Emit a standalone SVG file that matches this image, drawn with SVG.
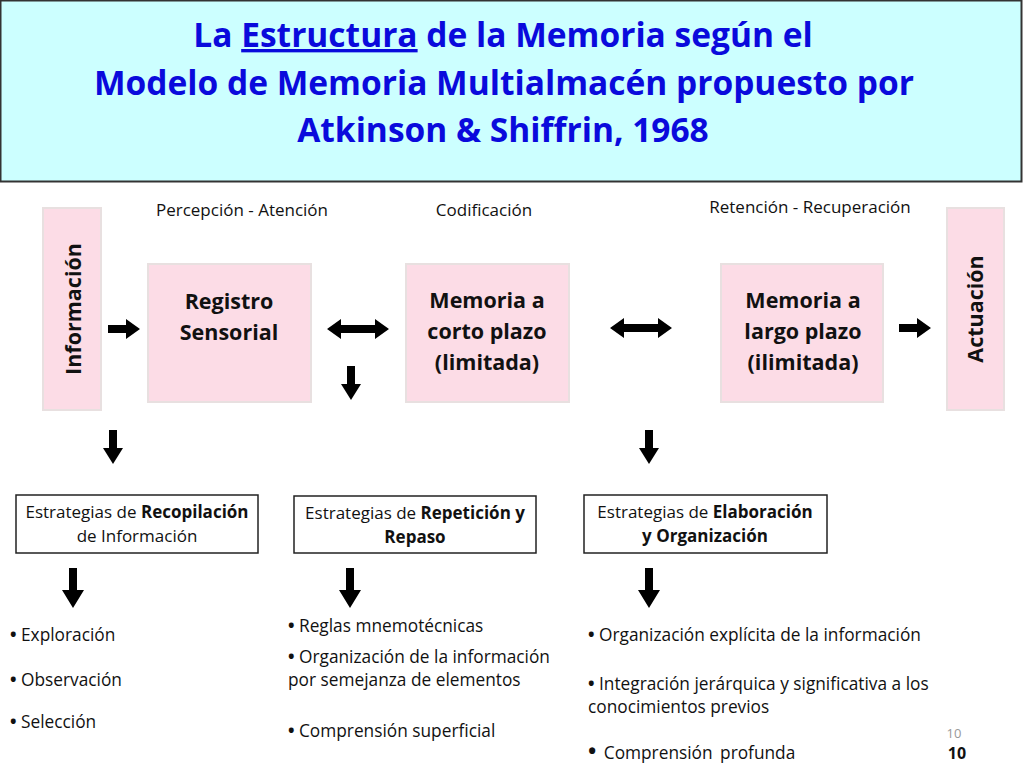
<svg xmlns="http://www.w3.org/2000/svg" width="1024" height="768" viewBox="0 0 1024 768">
<style>
.title{font-family:"Open Sans","Noto Sans","Liberation Sans",sans-serif;font-weight:bold;font-size:33.5px;fill:#0A0ADC;text-anchor:middle}
.pink{fill:#FCDCE6;stroke:#E8E0E0;stroke-width:2}
.node{font-family:"Open Sans","Noto Sans","Liberation Sans",sans-serif;font-weight:bold;font-size:21.5px;fill:#111;text-anchor:middle}
.lbl{font-family:"Open Sans","Noto Sans","Liberation Sans",sans-serif;font-size:17px;fill:#111;text-anchor:middle}
.box{fill:#fff;stroke:#222;stroke-width:1.5}
.bt{font-family:"Open Sans","Noto Sans","Liberation Sans",sans-serif;font-size:17px;fill:#111;text-anchor:middle}
.bul{font-family:"Open Sans","Noto Sans","Liberation Sans",sans-serif;font-size:17.3px;fill:#111}
.d{font-weight:bold}
.arr{fill:#000}
</style>
<defs>
<path id="ra" d="M-16,-4 H2 V-10 L16,0 L2,10 V4 H-16 Z"/>
<path id="da" d="M-31,0 L-17,-10 V-4 H17 V-10 L31,0 L17,10 V4 H-17 V10 Z"/>
<path id="dn" d="M-4,-17 H4 V1 H10 L0,17 L-10,1 H-4 Z"/>
<path id="dnl" d="M-4,-20 H4 V2 H11 L0,20 L-11,2 H-4 Z"/>
</defs>
<g id="title">
<rect x="0.5" y="0.5" width="1021" height="181" fill="#CCFFFF" stroke="#333" stroke-width="2"/>
<text class="title" x="503" y="47">La <tspan text-decoration="underline">Estructura</tspan> de la Memoria según el</text>
<text class="title" x="504" y="95">Modelo de Memoria Multialmacén propuesto por</text>
<text class="title" x="503" y="142">Atkinson &amp; Shiffrin, 1968</text>
</g>
<g id="labels">
<text class="lbl" x="242" y="216">Percepción - Atención</text>
<text class="lbl" x="484" y="216">Codificación</text>
<text class="lbl" x="810" y="213">Retención - Recuperación</text>
</g>
<g id="informacion">
<rect class="pink" x="43" y="208" width="58" height="202"/>
<text class="node" transform="translate(81,309) rotate(-90)">Información</text>
</g>
<g id="registro">
<rect class="pink" x="148" y="264" width="163" height="138"/>
<text class="node" x="229" y="309">Registro</text>
<text class="node" x="229" y="340">Sensorial</text>
</g>
<g id="corto">
<rect class="pink" x="406" y="264" width="163" height="138"/>
<text class="node" x="487" y="308">Memoria a</text>
<text class="node" x="487" y="339">corto plazo</text>
<text class="node" x="487" y="370">(limitada)</text>
</g>
<g id="largo">
<rect class="pink" x="721" y="264" width="162" height="138"/>
<text class="node" x="803" y="308">Memoria a</text>
<text class="node" x="803" y="339">largo plazo</text>
<text class="node" x="803" y="370">(ilimitada)</text>
</g>
<g id="actuacion">
<rect class="pink" x="947" y="208" width="57" height="202"/>
<text class="node" transform="translate(983,309) rotate(-90)">Actuación</text>
</g>
<g id="recopilacion">
<rect class="box" x="16" y="495" width="242" height="58"/>
<text class="bt" x="137" y="518">Estrategias de <tspan font-weight="bold">Recopilación</tspan></text>
<text class="bt" x="137" y="542">de Información</text>
</g>
<g id="repeticion">
<rect class="box" x="294" y="496" width="242" height="57"/>
<text class="bt" x="415" y="519">Estrategias de <tspan font-weight="bold">Repetición y</tspan></text>
<text class="bt" x="415" y="543" font-weight="bold">Repaso</text>
</g>
<g id="elaboracion">
<rect class="box" x="584" y="495" width="243" height="58"/>
<text class="bt" x="705" y="518">Estrategias de <tspan font-weight="bold">Elaboración</tspan></text>
<text class="bt" x="705" y="542" font-weight="bold">y Organización</text>
</g>
<g id="connectors" class="arr">
<use href="#ra" x="124" y="329"/>
<use href="#da" x="358" y="329"/>
<use href="#dn" x="351" y="383"/>
<use href="#da" x="641" y="328"/>
<use href="#ra" x="915" y="328"/>
<use href="#dn" x="113" y="447"/>
<use href="#dn" x="649" y="447"/>
<use href="#dnl" x="73" y="588"/>
<use href="#dnl" x="350" y="588"/>
<use href="#dnl" x="649" y="588"/>
</g>
<g id="bullets">
<text class="bul" x="10" y="641"><tspan class="d">•</tspan> Exploración</text>
<text class="bul" x="10" y="686"><tspan class="d">•</tspan> Observación</text>
<text class="bul" x="10" y="728"><tspan class="d">•</tspan> Selección</text>
<text class="bul" x="288" y="632"><tspan class="d">•</tspan> Reglas mnemotécnicas</text>
<text class="bul" x="288" y="663"><tspan class="d">•</tspan> Organización de la información</text>
<text class="bul" x="288" y="686">por semejanza de elementos</text>
<text class="bul" x="288" y="737"><tspan class="d">•</tspan> Comprensión superficial</text>
<text class="bul" x="588" y="641"><tspan class="d">•</tspan> Organización explícita de la información</text>
<text class="bul" x="588" y="690"><tspan class="d">•</tspan> Integración jerárquica y significativa a los</text>
<text class="bul" x="588" y="713">conocimientos previos</text>
<text class="bul" x="588" y="759" font-size="18px" word-spacing="3px"><tspan class="d" font-size="22px">•</tspan> Comprensión profunda</text>
</g>
<g id="pagenum">
<text x="954" y="738" font-family="'Open Sans','Liberation Sans',sans-serif" font-size="13px" fill="#999" text-anchor="middle">10</text>
<text x="957" y="759" font-family="'Open Sans','Liberation Sans',sans-serif" font-size="16px" font-weight="bold" fill="#111" text-anchor="middle">10</text>
</g>
</svg>
